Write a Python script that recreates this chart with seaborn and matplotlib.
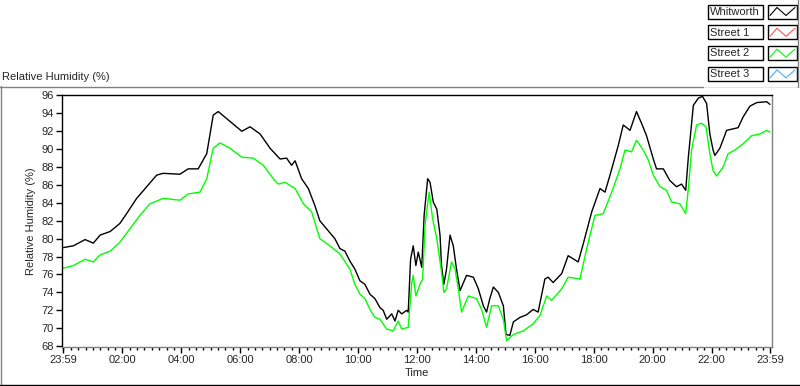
import numpy as np
import pandas as pd
import matplotlib
matplotlib.use("Agg")
import matplotlib.pyplot as plt
from matplotlib.lines import Line2D
from matplotlib.patches import Rectangle
import seaborn as sns

# hours after 23:59 (start of the logged day) and relative humidity (%)
whit_hours = [0.00, 0.35, 0.75, 1.03, 1.26, 1.60, 1.93, 2.16, 2.50, 2.84, 3.18, 3.40,
              3.97, 4.25, 4.59, 4.88, 5.10, 5.27, 5.67, 6.07, 6.35, 6.69, 7.03, 7.37,
              7.59, 7.76, 7.88, 8.10, 8.33, 8.55, 8.72, 9.00, 9.23, 9.40, 9.57, 9.74,
              9.91, 10.08, 10.25, 10.42, 10.59, 10.76, 10.87, 10.99, 11.16, 11.27, 11.38,
              11.50, 11.67, 11.72, 11.80, 11.89, 11.98, 12.06, 12.18, 12.26, 12.38, 12.46,
              12.57, 12.69, 12.80, 12.85, 12.93, 13.02, 13.14, 13.25, 13.36, 13.48, 13.70,
              13.93, 14.10, 14.27, 14.38, 14.49, 14.61, 14.78, 14.95, 15.04, 15.17, 15.29,
              15.51, 15.74, 15.96, 16.13, 16.36, 16.47, 16.64, 16.93, 17.15, 17.49, 17.66,
              17.95, 18.23, 18.40, 18.57, 18.85, 19.02, 19.25, 19.47, 19.64, 19.81, 20.04,
              20.15, 20.38, 20.60, 20.83, 21.00, 21.14, 21.23, 21.40, 21.57, 21.71, 21.85,
              21.96, 22.07, 22.13, 22.30, 22.53, 22.92, 23.09, 23.32, 23.55, 23.89, 24.00]
whit_rh = [79.0, 79.2, 79.9, 79.5, 80.4, 80.8, 81.7, 82.8, 84.5, 85.8, 87.1, 87.3,
           87.2, 87.8, 87.8, 89.5, 93.8, 94.2, 93.1, 92.0, 92.5, 91.7, 90.1, 88.9,
           89.0, 88.2, 88.7, 86.7, 85.6, 83.7, 82.0, 80.9, 80.0, 78.9, 78.6, 77.5,
           76.6, 75.3, 74.9, 73.8, 73.3, 72.3, 72.0, 71.0, 71.6, 70.8, 72.0,
           71.6, 72.0, 71.8, 77.7, 79.2, 77.0, 78.5, 76.8, 82.6, 86.7, 86.3,
           84.1, 83.3, 80.4, 77.0, 74.9, 76.6, 80.4, 79.2, 76.6, 74.2, 75.9,
           75.7, 74.4, 72.5, 71.8, 73.3, 74.6, 74.0, 72.5, 69.3, 69.2, 70.7,
           71.2, 71.5, 72.1, 71.8, 75.5, 75.7, 75.1, 76.1, 78.1, 77.4, 79.4,
           83.0, 85.6, 85.2, 87.1, 90.4, 92.7, 92.1, 94.2, 92.9, 91.5, 88.9,
           87.8, 87.8, 86.5, 85.8, 86.1, 85.4, 89.1, 94.9, 95.7, 95.9, 95.1,
           91.7, 89.9, 89.3, 90.1, 92.1, 92.4, 93.6, 94.8, 95.2, 95.3, 95.0]

st2_hours = [0.00, 0.35, 0.75, 1.03, 1.26, 1.60, 1.93, 2.27, 2.61, 2.95, 3.40, 3.97,
             4.25, 4.65, 4.88, 5.10, 5.33, 5.67, 6.07, 6.46, 6.80, 7.14, 7.31, 7.54,
             7.88, 8.16, 8.44, 8.72, 9.06, 9.40, 9.74, 9.91, 10.08, 10.25, 10.42, 10.59,
             10.76, 10.99, 11.21, 11.38, 11.50, 11.72, 11.84, 11.89, 11.98, 12.12, 12.21,
             12.29, 12.43, 12.55, 12.69, 12.85, 12.93, 13.02, 13.19, 13.31, 13.42, 13.53,
             13.76, 14.04, 14.21, 14.38, 14.55, 14.78, 14.95, 15.06, 15.29, 15.63, 15.96,
             16.19, 16.42, 16.59, 16.93, 17.15, 17.55, 17.78, 18.06, 18.34, 18.63, 18.91,
             19.08, 19.30, 19.47, 19.70, 19.87, 20.04, 20.27, 20.49, 20.66, 20.94, 21.14,
             21.23, 21.34, 21.51, 21.68, 21.83, 21.96, 22.07, 22.19, 22.41, 22.58, 22.81,
             23.09, 23.38, 23.66, 23.89, 24.00]
st2_rh = [76.7, 77.0, 77.7, 77.4, 78.2, 78.6, 79.6, 81.1, 82.6, 83.9, 84.5, 84.3,
          85.0, 85.2, 86.7, 90.1, 90.7, 90.1, 89.1, 89.0, 88.2, 86.7, 86.1, 86.3,
          85.6, 83.9, 83.0, 80.0, 79.2, 78.3, 76.6, 74.9, 73.8, 73.3, 72.1, 71.2,
          71.0, 69.9, 69.7, 70.8, 69.9, 70.1, 75.1, 75.9, 73.6, 74.9, 75.5,
          81.5, 85.2, 82.2, 80.0, 76.3, 74.0, 74.4, 77.4, 76.6, 74.4, 71.8,
          73.6, 73.3, 72.1, 70.1, 72.5, 72.5, 71.0, 68.6, 69.3, 69.7, 70.5,
          71.4, 73.6, 73.1, 74.4, 75.7, 75.5, 78.9, 82.6, 82.8, 85.2, 87.8,
          89.9, 89.7, 91.0, 89.9, 88.8, 87.1, 85.8, 85.4, 84.1, 83.9, 82.8,
          85.6, 89.9, 92.7, 92.9, 92.5, 89.5, 87.6, 87.0, 88.0, 89.5, 89.9,
          90.6, 91.5, 91.7, 92.1, 91.9]

legend_names = ["Whitworth", "Street 1", "Street 2", "Street 3"]
legend_colors = ["#000000", "#ff5050", "#00ff00", "#40b0ff"]

tick_labels = ["23:59", "02:00", "04:00", "06:00", "08:00", "10:00", "12:00",
               "14:00", "16:00", "18:00", "20:00", "22:00", "23:59"]
tick_hours = [0.0] + [h + 1 / 60 for h in range(2, 24, 2)] + [24.0]

df = pd.concat([
    pd.DataFrame({"hours": whit_hours, "rh": whit_rh, "site": "Whitworth"}),
    pd.DataFrame({"hours": st2_hours, "rh": st2_rh, "site": "Street 2"}),
], ignore_index=True)

sns.set_theme(style="white")
plt.rcParams["font.family"] = ["Liberation Sans", "DejaVu Sans"]
FS = 8

fig = plt.figure(figsize=(8, 3.86), dpi=100)
W, H = 800, 386


def fx(px):
    return px / W


def fy(py):
    return 1 - py / H


ax = fig.add_axes([fx(62), fy(347), fx(772) - fx(62), fy(95) - fy(347)])
sns.lineplot(data=df, x="hours", y="rh", hue="site", sort=False, estimator=None,
             palette={"Whitworth": "#000000", "Street 2": "#00ff00"},
             linewidth=1.0, legend=False, ax=ax)

ax.set_xlim(-0.034, 24.07)
ax.set_ylim(67.9, 96.05)
ax.set_yticks(np.arange(68, 97, 2))
ax.set_xticks(tick_hours)
ax.set_xticklabels(tick_labels)
ax.set_xticks([1 / 60 + 0.25 * k for k in range(96)], minor=True)
ax.tick_params(axis="both", which="major", direction="out", length=4, width=1,
               color="black", labelsize=FS, pad=2, bottom=True, left=True)
ax.tick_params(axis="x", which="minor", direction="out", length=2, width=1,
               color="black", bottom=True)
ax.set_xlabel("Time", fontsize=FS, labelpad=2)
ax.set_ylabel("Relative Humidity (%)", fontsize=FS, labelpad=4)
ax.grid(False)
for side, col in [("top", "black"), ("left", "black"), ("right", "#808080"), ("bottom", "#808080")]:
    ax.spines[side].set_color(col)
    ax.spines[side].set_linewidth(1)

fig.text(fx(2), fy(77), "Relative Humidity (%)", fontsize=FS, ha="left", va="center")

# panel frame
fig.add_artist(Line2D([fx(0.5), fx(0.5)], [fy(86), fy(385)], color="#808080", lw=1))
fig.add_artist(Line2D([fx(0), fx(703)], [fy(86.5), fy(86.5)], color="#808080", lw=1))
fig.add_artist(Line2D([fx(0), fx(800)], [fy(385), fy(385)], color="black", lw=1))

# legend block
lax = fig.add_axes([fx(700), fy(88), fx(100), fy(0) - fy(88)])
lax.set_xlim(700, 800)
lax.set_ylim(88, 0)
lax.axis("off")
lax.plot([700, 798, 798], [87.5, 87.5, 0], color="#808080", lw=1)
for i, (name, col) in enumerate(zip(legend_names, legend_colors)):
    top = 4.5 + i * 20.8
    lax.add_patch(Rectangle((708, top), 55, 14, fc="white", ec="black", lw=1))
    lax.add_patch(Rectangle((768, top), 29, 14, fc="white", ec="black", lw=1))
    lax.text(710, top + 7.3, name, fontsize=FS, ha="left", va="center")
    lax.plot([770, 777, 786, 795], [top + 11, top + 3, top + 11, top + 3], color=col, lw=0.8)

fig.savefig("out.png", dpi=100)
